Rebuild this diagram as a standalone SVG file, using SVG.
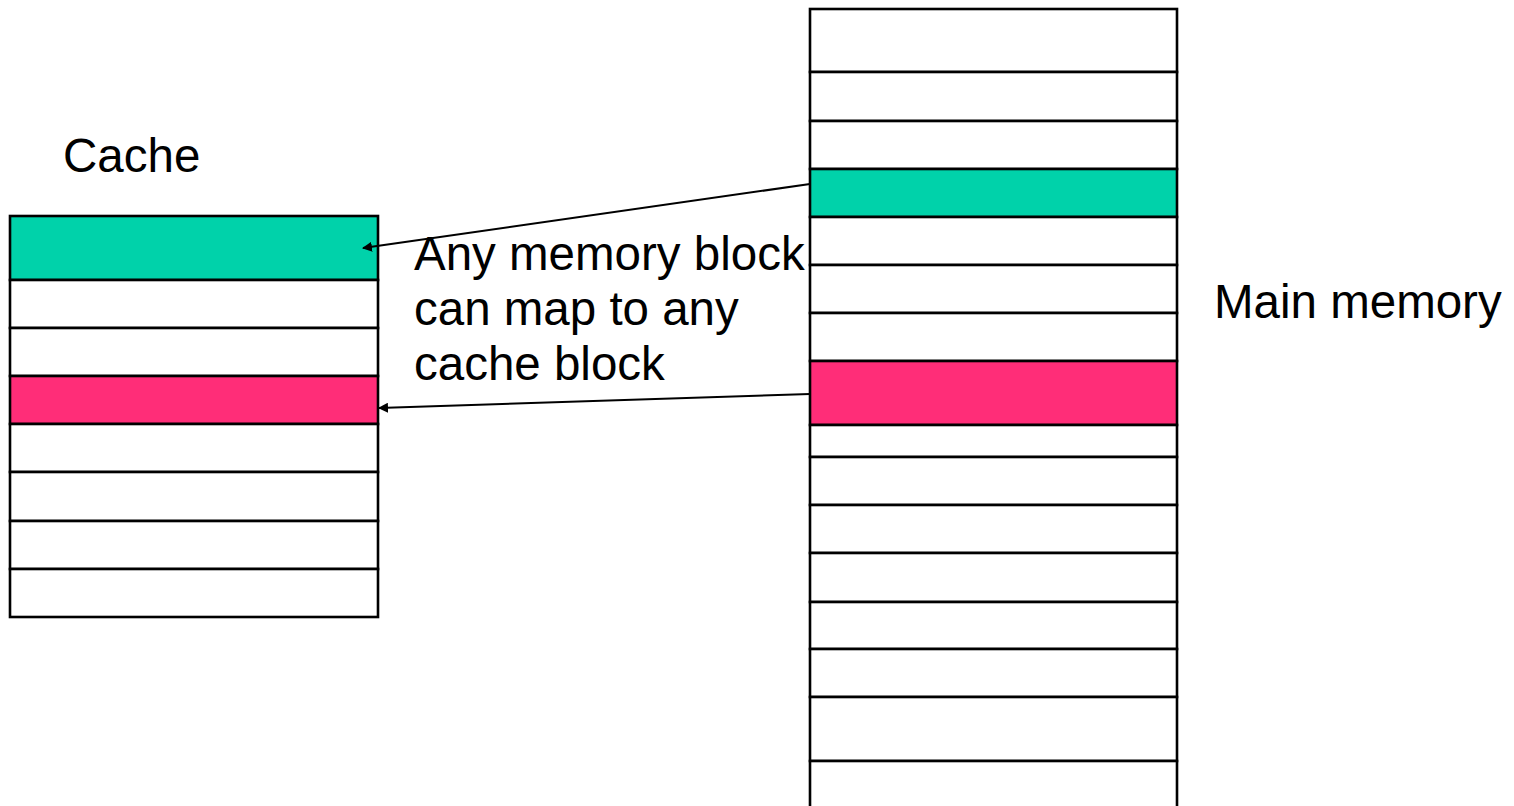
<svg xmlns="http://www.w3.org/2000/svg" width="1514" height="806" viewBox="0 0 1514 806">
  <style>
    .row { fill: #ffffff; stroke: #000000; stroke-width: 2.6; }
    .teal { fill: #00D2AA; stroke: #000000; stroke-width: 2.6; }
    .pink { fill: #FF2D78; stroke: #000000; stroke-width: 2.6; }
    .lbl { font-family: "Liberation Sans", Arial, Helvetica, sans-serif; font-size: 47.5px; fill: #000000; }
    .conn { stroke: #000000; stroke-width: 2; fill: none; marker-end: url(#head); }
  </style>
  <defs>
    <marker id="head" viewBox="0 0 10 10" refX="9" refY="5" markerWidth="5" markerHeight="5" orient="auto" markerUnits="strokeWidth">
      <path d="M0,0 L10,5 L0,10 z" fill="#000000"/>
    </marker>
  </defs>
  <rect width="1514" height="806" fill="#ffffff"/>

  <!-- Cache: 8 blocks -->
  <g id="cache">
    <rect class="teal" x="10" y="216" width="368" height="64"/>
    <rect class="row" x="10" y="280" width="368" height="48"/>
    <rect class="row" x="10" y="328" width="368" height="48"/>
    <rect class="pink" x="10" y="376" width="368" height="48"/>
    <rect class="row" x="10" y="424" width="368" height="48"/>
    <rect class="row" x="10" y="472" width="368" height="49"/>
    <rect class="row" x="10" y="521" width="368" height="48"/>
    <rect class="row" x="10" y="569" width="368" height="48"/>
  </g>

  <!-- Main memory: column of blocks running past the bottom edge -->
  <g id="main-memory">
    <rect class="row" x="810" y="9" width="367" height="63"/>
    <rect class="row" x="810" y="72" width="367" height="49"/>
    <rect class="row" x="810" y="121" width="367" height="48"/>
    <rect class="teal" x="810" y="169" width="367" height="48"/>
    <rect class="row" x="810" y="217" width="367" height="48"/>
    <rect class="row" x="810" y="265" width="367" height="48"/>
    <rect class="row" x="810" y="313" width="367" height="48"/>
    <rect class="pink" x="810" y="361" width="367" height="64"/>
    <rect class="row" x="810" y="425" width="367" height="32"/>
    <rect class="row" x="810" y="457" width="367" height="48"/>
    <rect class="row" x="810" y="505" width="367" height="48"/>
    <rect class="row" x="810" y="553" width="367" height="49"/>
    <rect class="row" x="810" y="602" width="367" height="47"/>
    <rect class="row" x="810" y="649" width="367" height="48"/>
    <rect class="row" x="810" y="697" width="367" height="64"/>
    <rect class="row" x="810" y="761" width="367" height="64"/>
  </g>

  <!-- Mapping arrows from memory blocks to cache blocks -->
  <g id="connectors">
    <line class="conn" x1="810" y1="184" x2="363" y2="248"/>
    <line class="conn" x1="810" y1="394" x2="379" y2="408"/>
  </g>

  <g id="labels">
    <text class="lbl" x="63" y="172">Cache</text>
    <text class="lbl" x="1214" y="318">Main memory</text>
    <text class="lbl" x="414" y="270">Any memory block</text>
    <text class="lbl" x="414" y="325">can map to any</text>
    <text class="lbl" x="414" y="380">cache block</text>
  </g>
</svg>
